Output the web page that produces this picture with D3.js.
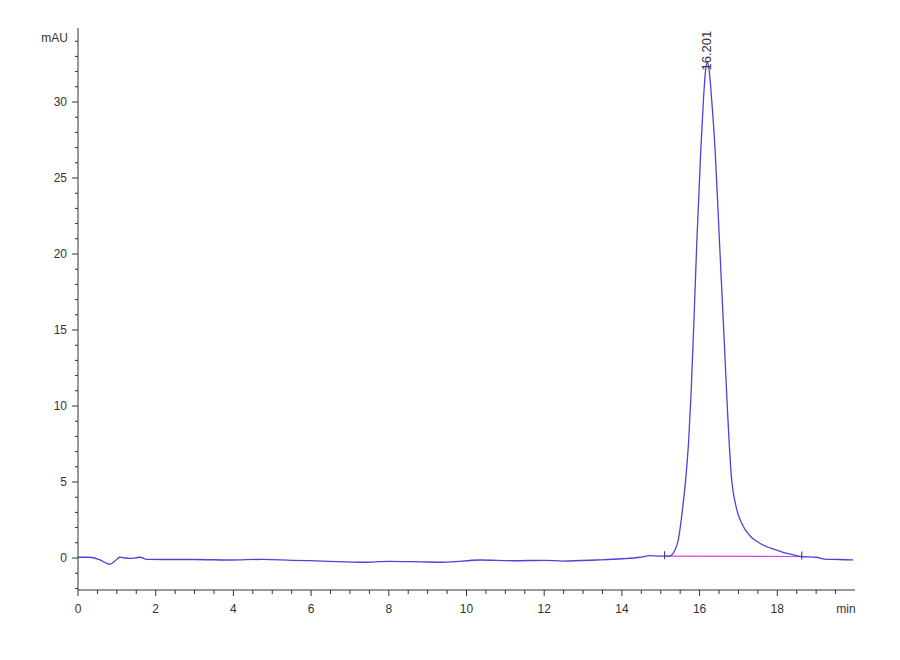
<!DOCTYPE html>
<html>
<head>
<meta charset="utf-8">
<script src="https://cdn.jsdelivr.net/npm/d3@7"></script>
<style>
  body { margin: 0; background: #fff; }
  text { font-family: "Liberation Sans", Arial, sans-serif; fill: #333; }
</style>
</head>
<body>
<svg id="chart" width="900" height="660"></svg>
<script>
// retention time (min) and absorbance (mAU)
const times = [
  0, 0.3, 0.55, 0.82, 0.95, 1.08, 1.2, 1.34, 1.6, 1.77, 2.2, 3.0, 3.9, 4.76, 5.5, 6.3,
  7.34, 8.0, 8.8, 9.4, 10.35, 11.2, 12.0, 12.5, 13.35, 14.0, 14.47, 14.72, 15.0, 15.2,
  15.28, 15.36, 15.45, 15.56, 15.65, 15.72, 15.78, 15.85, 15.93, 16.03, 16.1, 16.15,
  16.2, 16.25, 16.3, 16.4, 16.51, 16.63, 16.72, 16.81, 16.94, 17.08, 17.3, 17.47, 17.73,
  17.89, 18.15, 18.4, 18.6, 19.0, 19.27, 19.6, 19.95
];
const absorbance = [
  0.05, 0.05, -0.1, -0.41, -0.2, 0.05, 0.0, -0.02, 0.05, -0.09, -0.1, -0.1, -0.13, -0.09, -0.15, -0.2,
  -0.28, -0.22, -0.25, -0.28, -0.13, -0.18, -0.15, -0.2, -0.13, -0.05, 0.05, 0.15, 0.12, 0.12,
  0.2, 0.5, 1.18, 3.2, 5.4, 7.8, 10.8, 15.3, 20.9, 26.8, 30.2, 32.0,
  32.6, 32.0, 30.5, 26.8, 20.9, 14.5, 9.6, 5.6, 3.36, 2.3, 1.45, 1.1, 0.74,
  0.6, 0.37, 0.22, 0.1, 0.05, -0.09, -0.1, -0.13
];

// integration baseline and peak annotation
const baseStart = [15.1, 0.12];
const baseEnd = [18.63, 0.1];
const peakTime = 16.2;
const peakTop = 32.6;
const peakLabel = "16.201";

const yMajor = [0, 5, 10, 15, 20, 25, 30];
const xMajor = [0, 2, 4, 6, 8, 10, 12, 14, 16, 18];

const svg = d3.select("#chart");
const x = d3.scaleLinear().domain([0, 20]).range([78, 855]);
const y = d3.scaleLinear().domain([0, 30]).range([558, 102]);
const axisY = 590, axisTop = 28;

// y axis
const gy = svg.append("g").attr("transform", `translate(${x(0)},0)`);
gy.append("line").attr("y1", axisTop).attr("y2", axisY).attr("stroke", "#333");
gy.selectAll("line.minor").data(d3.range(-2, 35)).join("line")
  .attr("class", "minor")
  .attr("x1", d => yMajor.includes(d) ? -6 : -3).attr("x2", 0)
  .attr("y1", d => y(d)).attr("y2", d => y(d))
  .attr("stroke", "#333");
gy.selectAll("text").data(yMajor).join("text")
  .attr("x", -11).attr("y", d => y(d)).attr("dy", "0.35em")
  .attr("text-anchor", "end").style("font-size", "12px")
  .text(d => d);
svg.append("text").attr("x", 68).attr("y", 42).attr("text-anchor", "end")
  .style("font-size", "12px").text("mAU");

// x axis
const gx = svg.append("g").attr("transform", `translate(0,${axisY})`);
gx.append("line").attr("x1", x(0)).attr("x2", 855).attr("stroke", "#333");
gx.selectAll("line.tick").data(d3.range(0, 20, 0.5)).join("line")
  .attr("class", "tick")
  .attr("x1", d => x(d)).attr("x2", d => x(d))
  .attr("y1", 0).attr("y2", d => d % 2 === 0 ? 6 : 4)
  .attr("stroke", "#333");
gx.selectAll("text").data(xMajor).join("text")
  .attr("x", d => x(d)).attr("y", 23)
  .attr("text-anchor", "middle").style("font-size", "12px")
  .text(d => d);
svg.append("text").attr("x", 846).attr("y", 613).attr("text-anchor", "middle")
  .style("font-size", "12px").text("min");

// baseline
svg.append("line")
  .attr("x1", x(baseStart[0])).attr("y1", y(baseStart[1]))
  .attr("x2", x(baseEnd[0])).attr("y2", y(baseEnd[1]))
  .attr("stroke", "#e040e0").attr("stroke-width", 1.2);
[baseStart, baseEnd].forEach(p => {
  svg.append("line")
    .attr("x1", x(p[0])).attr("x2", x(p[0]))
    .attr("y1", y(p[1]) - 5).attr("y2", y(p[1]) + 3)
    .attr("stroke", "#333");
});

// chromatogram trace
const pts = times.map((t, i) => [t, absorbance[i]]);
const line = d3.line().x(d => x(d[0])).y(d => y(d[1])).curve(d3.curveMonotoneX);
svg.append("path").attr("d", line(pts))
  .attr("fill", "none").attr("stroke", "#4a44d8").attr("stroke-width", 1.3);

// peak label
svg.append("text")
  .attr("transform", `translate(${x(peakTime) + 4},${y(peakTop) + 8}) rotate(-90)`)
  .attr("text-anchor", "start").style("font-size", "13px")
  .text(peakLabel);
</script>
</body>
</html>
